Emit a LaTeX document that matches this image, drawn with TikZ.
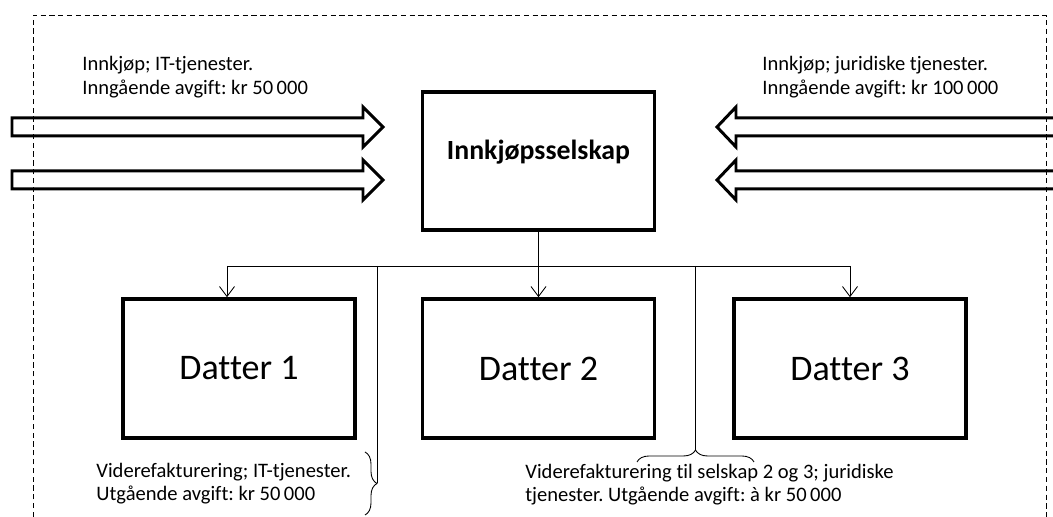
\documentclass[tikz,border=0pt]{standalone}
\usepackage{fontspec}
\setmainfont{Carlito}[Ligatures=NoCommon]
\usetikzlibrary{arrows.meta,decorations.pathreplacing}
\tikzset{
    firm/.style={draw, line width=2pt, minimum width=4.64cm, minimum height=2.78cm, font=\fontsize{20.5}{24}\selectfont},
    hub/.style={draw, line width=2pt, minimum width=4.64cm, minimum height=2.76cm, font=\fontsize{15.8}{18}\selectfont\bfseries, text height=0.38cm, text depth=0.44cm},
    flowtext/.style={align=left, anchor=west, inner sep=0pt, font=\fontsize{11.7}{13.4}\selectfont},
    branch/.style={line width=0.5pt, -{Straight Barb[length=2mm,width=3mm]}},
    bigarrow/.style={line width=1.7pt, line join=miter},
    bracket/.style={line width=0.5pt, decorate, decoration={brace, amplitude=0.24cm}}
}
\frenchspacing
\begin{document}
\begin{tikzpicture}
        \useasboundingbox (0, 0) rectangle (21.06, 10.34);
        % dashed frame
        \draw[dash pattern=on 3pt off 2pt, line width=0.5pt] (0.66, 0) -- (0.66, 10.04) -- (20.92, 10.04) -- (20.92, 0);
        % companies
        \node[hub] (buyer) at (10.77, 7.12) {Innkjøpsselskap};
        \node[firm] (d1) at (4.78, 2.97) {Datter 1};
        \node[firm] (d2) at (10.77, 2.97) {Datter 2};
        \node[firm] (d3) at (17.0, 2.97) {Datter 3};
        % incoming purchases
        \foreach \y in {7.8, 6.74}
        \draw[bigarrow] (0.24, \y+0.18) -- (7.26, \y+0.18) -- (7.26, \y+0.4) -- (7.66, \y)
            -- (7.26, \y-0.4) -- (7.26, \y-0.18) -- (0.24, \y-0.18) -- cycle;
        \foreach \y in {7.8, 6.74}
        \draw[bigarrow] (21.3, \y+0.18) -- (14.72, \y+0.18) -- (14.72, \y+0.4) -- (14.34, \y)
            -- (14.72, \y-0.4) -- (14.72, \y-0.18) -- (21.3, \y-0.18);
        \node[flowtext] (itin) at (1.64, 8.8) {Innkjøp; IT-tjenester.\\Inngående avgift: kr 50\,000};
        \node[flowtext] (jurin) at (15.24, 8.8) {Innkjøp; juridiske tjenester.\\Inngående avgift: kr 100\,000};
        % distribution to the daughters
        \coordinate (split) at (buyer.south |- 0, 5.02);
        \coordinate (left) at (4.54, 5.02);
        \coordinate (right) at (d3.north |- split);
        \draw[line width=0.5pt] (buyer.south) -- (split);
        \draw[line width=0.5pt] (left) -- (right);
        \draw[branch] (left) -- (left |- d1.north);
        \draw[branch] (split) -- (d2.north);
        \draw[branch] (right) -- (d3.north);
        % re-invoicing
        \coordinate (itpost) at (7.54, 5.02);
        \coordinate (jurpost) at (13.9, 5.02);
        \draw[bracket] (7.3, 1.3) -- (7.3, 0.04);
        \draw[line width=0.5pt] (itpost) -- (7.54, 0.67);
        \draw[bracket] (12.74, 1.1) -- (15.08, 1.1);
        \draw[line width=0.5pt] (jurpost) -- (13.9, 1.34);
        \node[flowtext] (itout) at (1.92, 0.67) {Viderefakturering; IT-tjenester.\\Utgående avgift: kr 50\,000};
        \node[flowtext] (jurout) at (10.5, 0.65) {Viderefakturering til selskap 2 og 3; juridiske\\tjenester. Utgående avgift: à kr 50\,000};
    \end{tikzpicture}
\end{document}
